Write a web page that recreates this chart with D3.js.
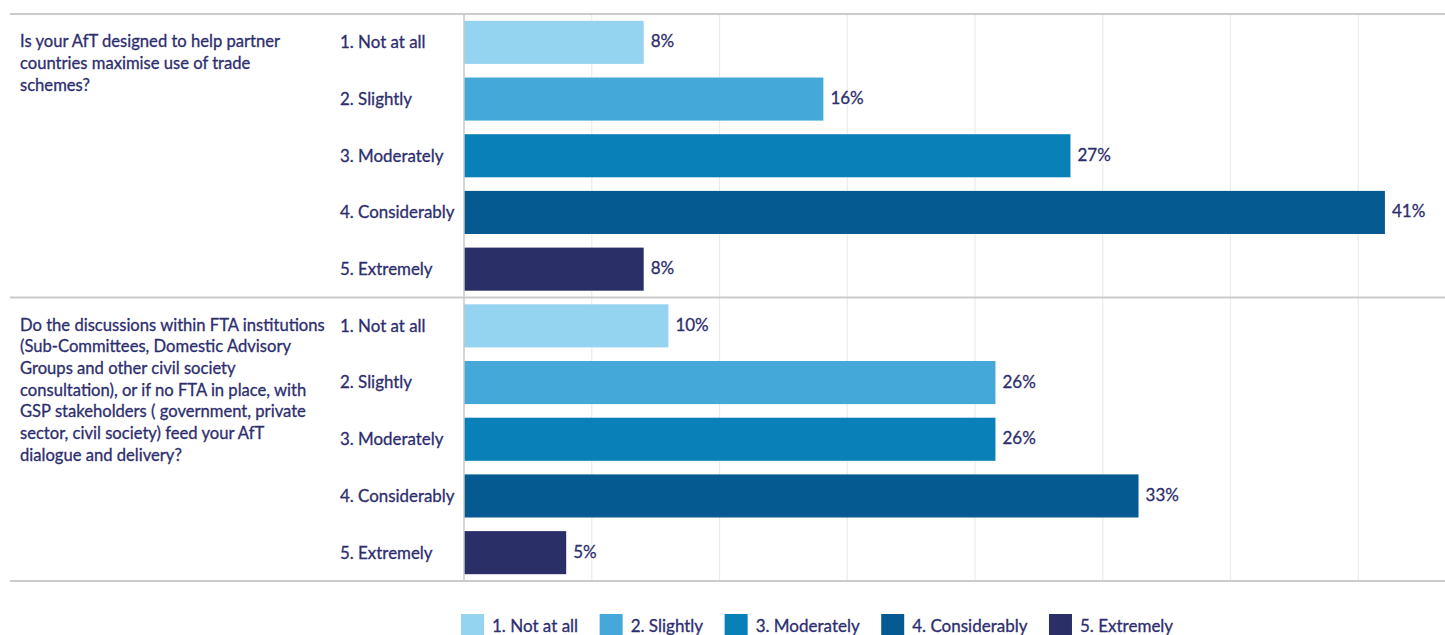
<!DOCTYPE html>
<html>
<head>
<meta charset="utf-8">
<script src="https://cdn.jsdelivr.net/npm/d3@7"></script>
<style>
  html, body { margin: 0; padding: 0; background: #ffffff; }
  svg { display: block; }
  text { font-family: Lato, "Open Sans", sans-serif; fill: #2d2e6e; stroke: #2d2e6e; stroke-width: 0.3px; }
</style>
</head>
<body>
<svg id="chart" width="1445" height="635"></svg>
<script>
// Answer scale shared by both survey questions
const categories = ["1. Not at all", "2. Slightly", "3. Moderately", "4. Considerably", "5. Extremely"];

// Question wording, one entry per printed line
const question1Lines = [
  "Is your AfT designed to help partner",
  "countries maximise use of trade",
  "schemes?"
];
const question2Lines = [
  "Do the discussions within FTA institutions",
  "(Sub-Committees, Domestic Advisory",
  "Groups and other civil society",
  "consultation), or if no FTA in place, with",
  "GSP stakeholders ( government, private",
  "sector, civil society) feed your AfT",
  "dialogue and delivery?"
];

// Share of respondents (%) per answer
const valuesQ1 = [8, 16, 27, 41, 8];
const valuesQ2 = [10, 26, 26, 33, 5];

// Upper end of each panel's value axis (%)
const panelMax = [45.5, 50];

const palette = ["#95d4f0", "#44a8d8", "#0a80b8", "#045a91", "#2b2f67"];

const panels = [
  { lines: question1Lines, values: valuesQ1, max: panelMax[0] },
  { lines: question2Lines, values: valuesQ2, max: panelMax[1] }
];

const svg = d3.select("#chart");

const plotLeft = 464, plotRight = 1486;
const panelTop = 14, panelBottom = 581;
const lineLeft = 10, lineRight = 1445;
const panelH = (panelBottom - panelTop) / panels.length;

// Vertical gridlines: eight equal divisions of the plot width
const gridScale = d3.scaleLinear().domain([0, 8]).range([plotLeft, plotRight]);
svg.append("g")
  .selectAll("line")
  .data(d3.range(1, 8))
  .join("line")
  .attr("x1", d => gridScale(d)).attr("x2", d => gridScale(d))
  .attr("y1", panelTop).attr("y2", panelBottom)
  .attr("stroke", "#ebebeb").attr("stroke-width", 1.2);

panels.forEach((p, i) => {
  const y0 = panelTop + i * panelH;
  const y1 = y0 + panelH;

  const y = d3.scaleBand()
    .domain(categories)
    .range([y0, y1])
    .paddingInner(0.24)
    .paddingOuter(0.12);

  const x = d3.scaleLinear().domain([0, p.max]).range([plotLeft, plotRight]);

  const g = svg.append("g");

  // bars
  g.selectAll("rect")
    .data(p.values)
    .join("rect")
    .attr("x", x(0))
    .attr("y", (d, j) => y(categories[j]))
    .attr("width", d => x(d) - x(0))
    .attr("height", y.bandwidth())
    .attr("fill", (d, j) => palette[j]);

  // value labels
  g.selectAll("text.val")
    .data(p.values)
    .join("text")
    .attr("class", "val")
    .attr("x", d => x(d) + 7)
    .attr("y", (d, j) => y(categories[j]) + y.bandwidth() / 2 - 1)
    .attr("dy", "0.35em")
    .style("font-size", "17px")
    .text(d => d + "%");

  // category labels
  g.selectAll("text.cat")
    .data(categories)
    .join("text")
    .attr("class", "cat")
    .attr("x", 340)
    .attr("y", d => y(d) + y.bandwidth() / 2)
    .attr("dy", "0.35em")
    .style("font-size", "16.9px")
    .text(d => d);

  // question text
  const firstY = y(categories[0]) + y.bandwidth() / 2 - 1;
  g.selectAll("text.q")
    .data(p.lines)
    .join("text")
    .attr("class", "q")
    .attr("x", 20)
    .attr("y", (d, k) => firstY + k * 21.7)
    .attr("dy", "0.35em")
    .style("font-size", "16.6px")
    .text(d => d);
});

// panel separators
svg.append("g")
  .selectAll("line")
  .data(d3.range(panels.length + 1))
  .join("line")
  .attr("x1", lineLeft).attr("x2", lineRight)
  .attr("y1", d => panelTop + d * panelH).attr("y2", d => panelTop + d * panelH)
  .attr("stroke", "#cbcbcb").attr("stroke-width", 2);

// value axis baseline
svg.append("line")
  .attr("x1", plotLeft).attr("x2", plotLeft)
  .attr("y1", panelTop).attr("y2", panelBottom)
  .attr("stroke", "#c9c9c9").attr("stroke-width", 1.5);

// legend
const legend = svg.append("g");
let lx = 461;
categories.forEach((c, j) => {
  legend.append("rect")
    .attr("x", lx).attr("y", 614)
    .attr("width", 23).attr("height", 22)
    .attr("fill", palette[j]);
  const t = legend.append("text")
    .attr("x", lx + 31).attr("y", 626)
    .attr("dy", "0.35em")
    .style("font-size", "17px")
    .text(c);
  lx += 31 + t.node().getComputedTextLength() + 21.5;
});
</script>
</body>
</html>
